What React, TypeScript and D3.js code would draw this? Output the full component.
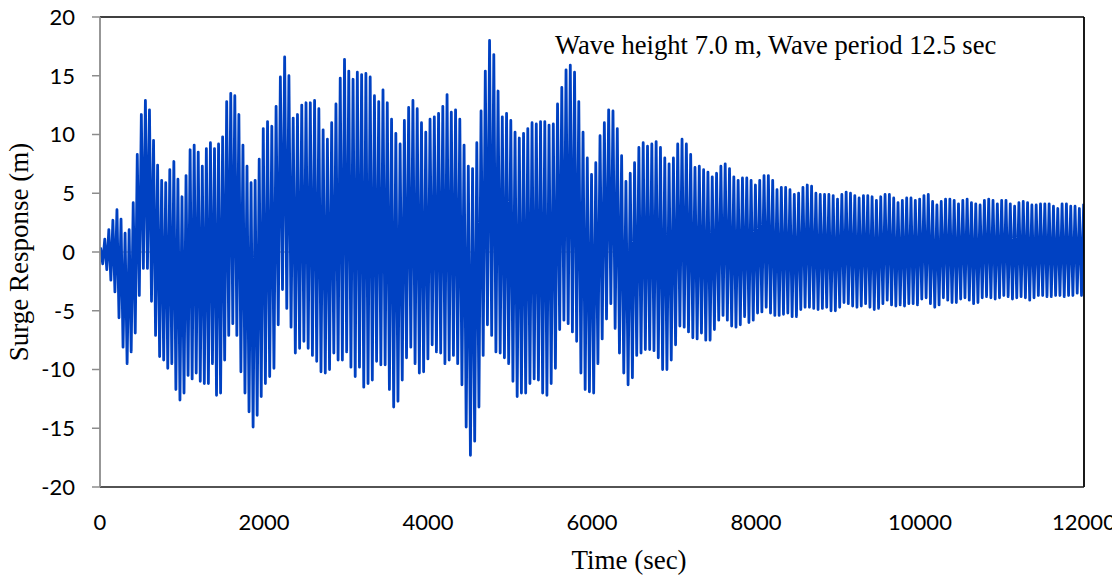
import React from "react";
import * as d3 from "d3";

// ---- data ----
// successive crest values of the surge record (m)
const crests: number[] = [
  0.3, 1.1, 1.9, 2.7, 3.6, 2.8, 1.6, 1.9, 4.2, 8.3, 11.7, 12.9, 12.1, 9.5, 7.4, 6.1, 5.9, 7.0, 7.7, 6.2,
  4.7, 6.5, 8.7, 9.1, 8.5, 7.3, 8.8, 9.3, 8.8, 9.2, 9.8, 12.8, 13.5, 13.3, 11.7, 9.1, 7.3, 5.9, 6.1, 7.9, 10.5,
  11.1, 10.7, 12.4, 14.9, 16.6, 15.0, 11.4, 11.7, 12.5, 12.7, 12.7, 12.9, 12.2, 10.4, 9.6, 11.0, 12.6, 14.8, 16.4, 15.4,
  14.7, 15.3, 15.1, 15.2, 14.9, 13.3, 12.8, 13.8, 12.7, 11.3, 10.1, 9.2, 11.2, 12.3, 12.9, 12.2, 11.0, 10.2, 11.3, 11.5,
  11.8, 12.4, 13.4, 11.9, 12.1, 11.3, 9.1, 7.3, 7.1, 9.3, 12.0, 15.4, 18.0, 16.8, 13.7, 11.5, 11.8, 11.2, 10.2, 9.7,
  10.1, 10.5, 11.0, 10.9, 11.1, 11.1, 10.8, 10.9, 12.6, 14.0, 15.5, 15.9, 15.3, 12.8, 10.2, 8.0, 6.6, 7.6, 9.9,
  11.0, 12.1, 12.0, 10.5, 8.2, 6.0, 6.7, 7.6, 8.9, 9.3, 9.0, 9.2, 9.4, 8.9, 8.0, 7.5, 8.0, 9.2, 9.6, 9.2,
  8.3, 7.2, 7.3, 7.0, 6.8, 6.4, 6.7, 7.3, 7.5, 7.1, 6.4, 6.1, 6.3, 6.3, 6.1, 5.7, 6.1, 6.5,
  6.5, 6.1, 5.3, 5.5, 5.5, 5.3, 4.9, 5.0, 5.5, 5.7, 5.6, 5.0, 4.9, 4.9, 4.9, 4.8, 4.5, 4.9, 5.1, 5.0,
  4.8, 4.6, 4.8, 4.8, 4.7, 4.4, 4.7, 4.9, 4.9, 4.6, 4.2, 4.4, 4.6, 4.6, 4.4, 4.5, 4.8, 4.9,
  4.3, 4.0, 4.3, 4.5, 4.5, 4.4, 4.1, 4.4, 4.5, 4.2, 4.1, 4.0, 4.4, 4.5, 4.4, 4.1, 4.4, 4.4, 4.1, 3.9,
  4.2, 4.3, 4.2, 4.0, 4.0, 4.1, 4.1, 4.1, 3.9, 3.7, 4.1, 4.1, 3.9, 3.9, 3.7, 4.1,
];

// successive trough values of the surge record (m)
const troughs: number[] = [
  -1.0, -1.5, -2.4, -3.4, -5.6, -8.1, -9.5, -8.5, -6.9, -3.7, -1.4, -1.4, -4.2, -7.1, -8.9, -9.2, -9.9, -9.5, -11.7, -12.6,
  -12.0, -10.5, -10.8, -10.3, -11.0, -11.2, -11.2, -9.5, -12.2, -12.0, -9.2, -7.1, -6.1, -7.1, -10.2, -12.0, -13.6, -14.9, -13.9, -12.3, -11.2,
  -10.6, -9.9, -6.2, -3.2, -4.8, -6.4, -8.6, -8.2, -7.6, -8.2, -8.8, -9.3, -10.2, -10.3, -10.0, -8.6, -9.2, -9.2, -8.5, -9.8,
  -10.6, -9.8, -11.5, -11.2, -10.9, -9.3, -9.6, -9.6, -11.7, -13.2, -12.7, -10.9, -9.0, -8.1, -9.5, -10.3, -10.2, -9.1, -7.9,
  -8.5, -8.6, -9.5, -9.2, -8.8, -9.5, -11.3, -14.9, -17.3, -16.1, -13.2, -8.8, -6.2, -7.1, -8.5, -8.6, -9.0, -9.5, -11.0, -12.3,
  -12.0, -12.0, -11.2, -10.8, -10.9, -12.0, -12.2, -11.2, -9.9, -6.6, -5.8, -6.1, -6.8, -7.6, -10.3, -11.7, -11.9, -12.0, -9.5,
  -7.4, -5.7, -4.4, -6.5, -8.6, -10.3, -11.3, -10.7, -8.8, -8.6, -8.3, -8.3, -8.4, -9.0, -10.0, -10.0, -9.2, -7.9, -6.3, -6.4,
  -6.8, -7.3, -7.4, -6.9, -7.5, -7.5, -6.6, -5.8, -5.4, -5.8, -6.3, -6.4, -6.2, -5.5, -6.0, -5.8, -5.2, -5.1,
  -4.7, -5.2, -5.4, -5.4, -5.3, -5.2, -5.5, -5.5, -4.9, -4.7, -4.7, -4.8, -4.9, -4.8, -4.7, -5.0, -5.0, -4.7, -4.3, -4.4,
  -4.6, -4.7, -4.6, -4.4, -4.7, -4.9, -4.8, -4.4, -4.1, -4.5, -4.6, -4.5, -4.6, -4.4, -4.4, -4.5, -4.0, -3.9,
  -4.4, -4.7, -4.5, -3.9, -4.1, -4.3, -4.3, -4.0, -3.9, -4.1, -4.4, -4.3, -3.9, -3.8, -3.9, -4.0, -3.9, -3.7, -3.8, -4.0,
  -3.9, -3.8, -3.9, -4.1, -3.9, -3.7, -3.7, -3.8, -3.8, -3.7, -3.7, -3.8, -3.7, -3.7, -3.5, -3.7,
];

// times (s) read for selected crests: [crest index, time]
const crestTimeMarks: [number, number][] = [
  [0, 8.5],
  [40, 1991],
  [80, 4077],
  [119, 6098],
  [157, 8098],
  [195, 10101],
  [231, 11996],
];

const startTime = 0;
const startValue = 0;

const xTicks = [0, 2000, 4000, 6000, 8000, 10000, 12000];
const yTicks = [-20, -15, -10, -5, 0, 5, 10, 15, 20];
const xTitle = "Time (sec)";
const yTitle = "Surge Response (m)";
const note = "Wave height 7.0 m, Wave period 12.5 sec";

const W = 1112;
const H = 576;
const M = { left: 100, right: 1084, top: 17, bottom: 487 };

export default function App() {
  const x = d3.scaleLinear().domain([0, 12000]).range([M.left, M.right]);
  const y = d3.scaleLinear().domain([-20, 20]).range([M.bottom, M.top]);

  // crest index -> time, piecewise from the read marks
  const crestTime = d3
    .scaleLinear()
    .domain(crestTimeMarks.map((d) => d[0]))
    .range(crestTimeMarks.map((d) => d[1]));

  const pts: [number, number][] = [[startTime, startValue]];
  crests.forEach((c, i) => {
    const t = crestTime(i);
    pts.push([t, c]);
    if (i < troughs.length) pts.push([(t + crestTime(i + 1)) / 2, troughs[i]]);
  });

  const line = d3
    .line<[number, number]>()
    .x((d) => x(d[0]))
    .y((d) => y(d[1]));

  const sans = "Lato, 'Open Sans', sans-serif";
  const serif = "'Liberation Serif', 'Times New Roman', serif";

  return (
    <svg
      width={W}
      height={H}
      style={{ position: "absolute", left: 0, top: 0, background: "#fff" }}
    >
      <defs>
        <clipPath id="plot">
          <rect x={M.left} y={M.top - 2} width={M.right - M.left} height={M.bottom - M.top + 4} />
        </clipPath>
      </defs>
      {/* zero axis line */}
      <line x1={M.left} x2={M.right} y1={y(0)} y2={y(0)} stroke="#8c8c8c" strokeWidth={1.2} />
      {/* series */}
      <path
        d={line(pts) || ""}
        fill="none"
        stroke="#0041c2"
        strokeWidth={2.8}
        strokeLinejoin="round"
        clipPath="url(#plot)"
      />
      {/* plot frame */}
      <line x1={M.left} x2={M.right} y1={M.top} y2={M.top} stroke="#000" strokeWidth={1.3} />
      <line x1={M.right} x2={M.right} y1={M.top} y2={M.bottom} stroke="#000" strokeWidth={1.8} />
      <line x1={M.left} x2={M.right} y1={M.bottom} y2={M.bottom} stroke="#1a1a1a" strokeWidth={1.5} />
      {/* y axis */}
      <line x1={M.left} x2={M.left} y1={M.top} y2={M.bottom} stroke="#8c8c8c" strokeWidth={1.8} />
      {yTicks.map((v) => (
        <g key={v}>
          <line x1={M.left - 8} x2={M.left} y1={y(v)} y2={y(v)} stroke="#8c8c8c" strokeWidth={1.5} />
          <text
            x={75}
            y={y(v)}
            dy="0.36em"
            textAnchor="end"
            fontFamily={sans}
            fontSize={22}
            fill="#000"
          >
            {v}
          </text>
        </g>
      ))}
      {xTicks.map((v) => (
        <text
          key={v}
          x={x(v)}
          y={530}
          textAnchor="middle"
          fontFamily={sans}
          fontSize={22}
          fill="#000"
        >
          {v}
        </text>
      ))}
      <text x={629} y={569} textAnchor="middle" fontFamily={serif} fontSize={27} fill="#000">
        {xTitle}
      </text>
      <text
        transform={`translate(28, ${(M.top + M.bottom) / 2}) rotate(-90)`}
        textAnchor="middle"
        fontFamily={serif}
        fontSize={27}
        fill="#000"
      >
        {yTitle}
      </text>
      <text x={555} y={54} fontFamily={serif} fontSize={26.6} fill="#000">
        {note}
      </text>
    </svg>
  );
}
